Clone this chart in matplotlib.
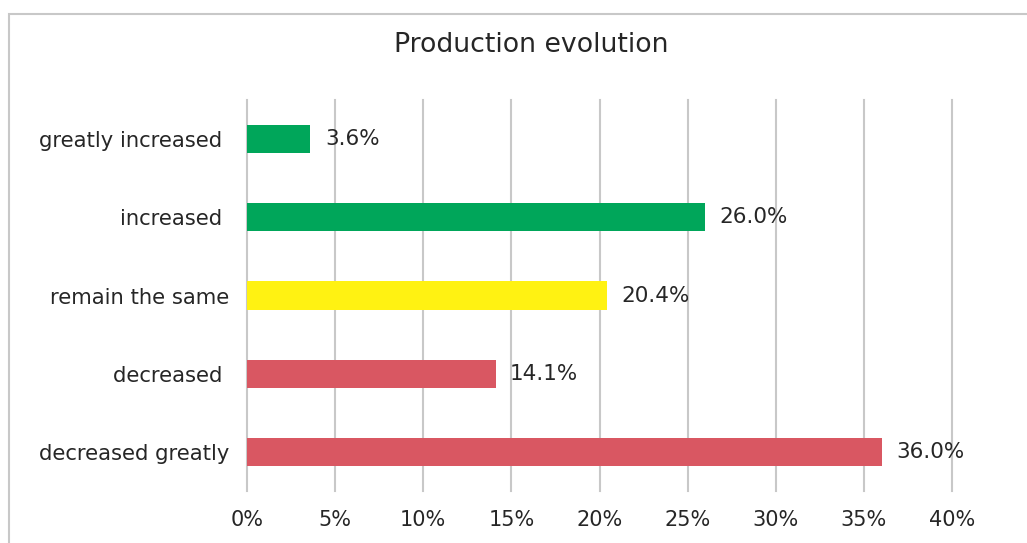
import matplotlib.pyplot as plt
from matplotlib.patches import Rectangle

categories = ["decreased greatly", "decreased ", "remain the same", "increased ", "greatly increased "]
values = [36.0, 14.1, 20.4, 26.0, 3.6]
colors = ["#D95762", "#D95762", "#FFF212", "#00A65A", "#00A65A"]
xticks = [0, 5, 10, 15, 20, 25, 30, 35, 40]

plt.rcParams['font.family'] = ['DejaVu Sans']
TXT = "#262626"

fig = plt.figure(figsize=(10.27, 5.43), dpi=100)
fig.patches.append(Rectangle((9 / 1027, -0.1), 1.2, 1 - 14 / 543 + 0.1,
                             transform=fig.transFigure, fill=False,
                             edgecolor="#C8C8C8", linewidth=1.5))

ax = fig.add_axes([247 / 1027, 1 - 491 / 543, (952 - 247) / 1027, (491 - 100) / 543])
pos = range(len(categories))
ax.barh(pos, values, height=0.36, color=colors, zorder=3)

for y, v in zip(pos, values):
    ax.annotate(f"{v:.1f}%", (v, y), xytext=(10.5, 0), textcoords="offset points",
                va="center", ha="left", fontsize=15.5, color=TXT, zorder=4)

ax.set_xlim(0, 40)
ax.set_ylim(-0.5, 4.5)
ax.set_xticks(xticks)
ax.set_xticklabels([f"{t}%" for t in xticks], fontsize=15, color=TXT)
ax.set_yticks(list(pos))
ax.set_yticklabels(categories, fontsize=15.2, color=TXT)
ax.tick_params(axis="both", length=0)
ax.tick_params(axis="x", pad=14)
ax.tick_params(axis="y", pad=13)
ax.grid(axis="x", color="#C8C8C8", linewidth=1.5, zorder=0)
for gl in ax.get_xgridlines():
    gl.set_clip_on(False)
for s in ax.spines.values():
    s.set_visible(False)

fig.text(531 / 1027, 1 - 45 / 543, "Production evolution",
         ha="center", va="center", fontsize=19.3, color=TXT)

fig.savefig("out.png", dpi=100)
